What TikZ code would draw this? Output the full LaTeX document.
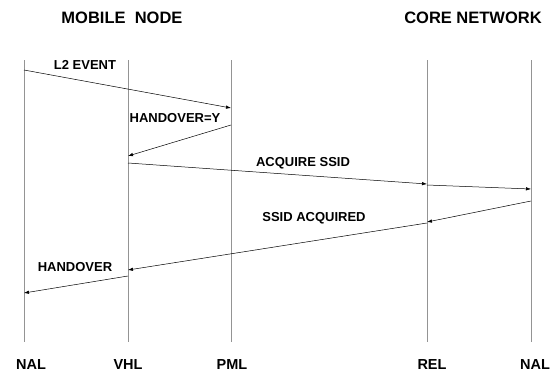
\documentclass[tikz,border=0pt]{standalone}
\usepackage{fontspec}
\setmainfont{Liberation Sans}
\usetikzlibrary{arrows.meta}
\begin{document}
\begin{tikzpicture}[x=1pt,y=-1pt,
  lifeline/.style={draw=black!42,line width=0.9pt},
  msg/.style={draw=black,line width=0.5pt,-{Latex[length=5pt,width=3.5pt]}},
  title/.style={font=\bfseries\fontsize{16.5}{18}\selectfont,inner sep=0pt},
  lbl/.style={font=\bfseries\fontsize{13}{14}\selectfont,inner sep=0pt},
  ent/.style={font=\bfseries\fontsize{14.5}{16}\selectfont,inner sep=0pt}]
\useasboundingbox (0,0) rectangle (554,372);
% titles
\node[title] (mn) at (122,18) {MOBILE\ \ NODE};
\node[title] (cn) at (473,18) {CORE NETWORK};
% lifelines
\foreach \n/\x in {nalL/24,vhl/128,pml/231,rel/427,nalR/531}{
  \coordinate (\n top) at (\x,60);
  \coordinate (\n bot) at (\x,342);
  \draw[lifeline] (\n top) -- (\n bot);
}
% entity labels
\node[ent] (lnalL) at (31,365) {NAL};
\node[ent] (lvhl) at (128,365) {VHL};
\node[ent] (lpml) at (232,365) {PML};
\node[ent] (lrel) at (432,365) {REL};
\node[ent] (lnalR) at (535,365) {NAL};
% message end points
\coordinate (a1) at (24,70);   \coordinate (b1) at (231,108);
\coordinate (a2) at (231,125); \coordinate (b2) at (128,156);
\coordinate (a3) at (128,163); \coordinate (b3) at (427,184);
\coordinate (a4) at (427,185); \coordinate (b4) at (531,189);
\coordinate (a5) at (531,201); \coordinate (b5) at (427,222);
\coordinate (a6) at (427,223); \coordinate (b6) at (128,270);
\coordinate (a7) at (128,276); \coordinate (b7) at (24,293);
\draw[msg] (a1) -- (b1);
\draw[msg] (a2) -- (b2);
\draw[msg] (a3) -- (b3);
\draw[msg] (a4) -- (b4);
\draw[msg] (a5) -- (b5);
\draw[msg] (a6) -- (b6);
\draw[msg] (a7) -- (b7);
% message labels
\node[lbl] (t1) at (85,65) {L2 EVENT};
\node[lbl] (t2) at (175,118) {HANDOVER=Y};
\node[lbl] (t3) at (303,163) {ACQUIRE SSID};
\node[lbl] (t5) at (314,218) {SSID ACQUIRED};
\node[lbl] (t7) at (75,267) {HANDOVER};
\end{tikzpicture}
\end{document}
